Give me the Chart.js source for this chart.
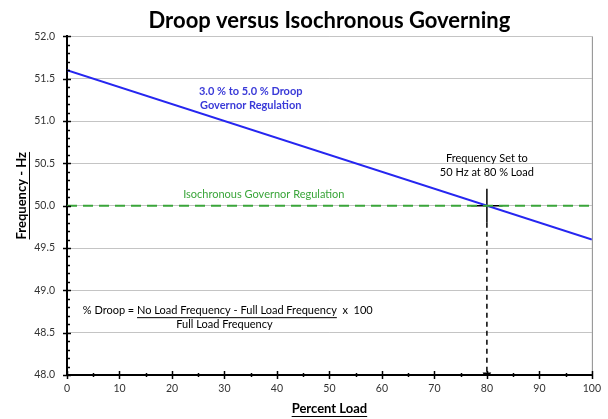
<!DOCTYPE html>
<html>
<head>
<meta charset="utf-8">
<script src="https://cdn.jsdelivr.net/npm/chart.js@4.4.0/dist/chart.umd.min.js"></script>
<style>
  html, body { margin: 0; padding: 0; background: #fff; }
  #wrap { width: 608px; height: 419px; }
</style>
</head>
<body>
<div id="wrap"><canvas id="droopChart" width="608" height="419"></canvas></div>
<script>
// --- Data ---
const loadRange = [0, 100];
const droopFreq = [51.6, 49.6];
const isoFreq = [50.0, 50.0];
const setPointLoad = 80;
const setPointFreq = 50.0;
const crossLoads = [77, 83];
const crossFreqs = [50.2, 49.8];
const freqTicks = [48.0, 48.5, 49.0, 49.5, 50.0, 50.5, 51.0, 51.5, 52.0];
const loadTicks = [0, 10, 20, 30, 40, 50, 60, 70, 80, 90, 100];

const FONT = "Lato, 'Open Sans', sans-serif";

function pts(xs, ys) {
  return xs.map((x, i) => ({ x: x, y: ys[i] }));
}

// --- Extra drawing: tick marks, right border, annotations, axis titles ---
const decorPlugin = {
  id: "decor",
  afterDraw(chart) {
    const ctx = chart.ctx;
    const xs = chart.scales.x;
    const ys = chart.scales.y;
    const area = chart.chartArea;

    ctx.save();
    // right border
    ctx.strokeStyle = "#8a8a8a";
    ctx.lineWidth = 1;
    ctx.beginPath();
    ctx.moveTo(area.right + 0.5, area.top);
    ctx.lineTo(area.right + 0.5, area.bottom);
    ctx.stroke();

    // tick marks
    ctx.strokeStyle = "#000";
    ctx.lineWidth = 1.5;
    for (let i = 0; i <= 40; i++) {
      const v = 48 + i * 0.1;
      const py = Math.round(ys.getPixelForValue(v)) + 0.5;
      const major = i % 5 === 0;
      ctx.beginPath();
      ctx.moveTo(area.left - (major ? 4 : 0), py);
      ctx.lineTo(area.left + (major ? 4 : 3), py);
      ctx.stroke();
    }
    for (let i = 0; i <= 20; i++) {
      const v = i * 5;
      const px = Math.round(xs.getPixelForValue(v)) + 0.5;
      const major = i % 2 === 0;
      ctx.beginPath();
      ctx.moveTo(px, area.bottom - (major ? 4 : 2));
      ctx.lineTo(px, area.bottom + (major ? 4 : 2));
      ctx.stroke();
    }

    function label(text, x, y, color, font, underline) {
      ctx.font = font;
      ctx.fillStyle = color;
      ctx.textAlign = "center";
      ctx.textBaseline = "middle";
      ctx.fillText(text, x, y);
      if (underline) {
        const w = ctx.measureText(text).width;
        ctx.strokeStyle = color;
        ctx.lineWidth = 1;
        ctx.beginPath();
        ctx.moveTo(x - w / 2, y + 7.5);
        ctx.lineTo(x + w / 2, y + 7.5);
        ctx.stroke();
      }
    }

    // axis titles
    label("Percent Load", (area.left + area.right) / 2, 409, "#000", "bold 13px " + FONT, true);
    ctx.save();
    ctx.translate(22, (area.top + area.bottom) / 2 - 10);
    ctx.rotate(-Math.PI / 2);
    label("Frequency - Hz", 0, 0, "#000", "bold 13px " + FONT, true);
    ctx.restore();

    // annotations
    const f11 = "11px " + FONT;
    const b11 = "bold 11px " + FONT;
    label("3.0 % to 5.0 % Droop", xs.getPixelForValue(35), ys.getPixelForValue(51.35), "#3a3ad8", b11);
    label("Governor Regulation", xs.getPixelForValue(35), ys.getPixelForValue(51.18), "#3a3ad8", b11);
    label("Isochronous Governor Regulation", xs.getPixelForValue(37.5), ys.getPixelForValue(50.13), "#3aa53a", f11);
    label("Frequency Set to", xs.getPixelForValue(80), ys.getPixelForValue(50.56), "#000", f11);
    label("50 Hz at 80 % Load", xs.getPixelForValue(80), ys.getPixelForValue(50.39), "#000", f11);

    // droop formula
    ctx.font = f11;
    ctx.fillStyle = "#000";
    ctx.textAlign = "left";
    ctx.textBaseline = "middle";
    const fy = ys.getPixelForValue(48.76);
    let fx = xs.getPixelForValue(3);
    const parts = ["% Droop = ", "No Load Frequency - Full Load Frequency", "  x  100"];
    parts.forEach((p, i) => {
      ctx.fillText(p, fx, fy);
      const w = ctx.measureText(p).width;
      if (i === 1) {
        ctx.strokeStyle = "#000";
        ctx.lineWidth = 1;
        ctx.beginPath();
        ctx.moveTo(fx, fy + 7);
        ctx.lineTo(fx + w, fy + 7);
        ctx.stroke();
      }
      fx += w;
    });
    label("Full Load Frequency", xs.getPixelForValue(30), ys.getPixelForValue(48.6), "#000", f11);
    ctx.restore();
  }
};

new Chart(document.getElementById("droopChart").getContext("2d"), {
  type: "scatter",
  data: {
    datasets: [
      {
        label: "Isochronous",
        data: pts(loadRange, isoFreq),
        showLine: true,
        borderColor: "#3aa53a",
        borderWidth: 2,
        borderDash: [10, 6],
        pointRadius: 0
      },
      {
        label: "Droop",
        data: pts(loadRange, droopFreq),
        showLine: true,
        borderColor: "#2626f0",
        borderWidth: 2,
        pointRadius: 0
      },
      {
        label: "Cross H",
        data: pts(crossLoads, [setPointFreq, setPointFreq]),
        showLine: true,
        borderColor: "#000",
        borderWidth: 1.5,
        pointRadius: 0
      },
      {
        label: "Cross V",
        data: pts([setPointLoad, setPointLoad], crossFreqs),
        showLine: true,
        borderColor: "#000",
        borderWidth: 1.5,
        pointRadius: 0
      },
      {
        label: "Drop",
        data: pts([setPointLoad, setPointLoad], [crossFreqs[1], freqTicks[0]]),
        showLine: true,
        borderColor: "#000",
        borderWidth: 1.5,
        borderDash: [5, 4],
        pointStyle: "triangle",
        rotation: 180,
        pointRadius: [0, 3.5],
        pointBackgroundColor: "#000",
        pointBorderColor: "#000"
      }
    ]
  },
  options: {
    responsive: false,
    animation: false,
    layout: { padding: { left: 0, right: 9, top: 0, bottom: 0 } },
    plugins: {
      legend: { display: false },
      tooltip: { enabled: false },
      title: {
        display: true,
        text: "Droop versus Isochronous Governing",
        fullSize: false,
        color: "#000",
        font: { family: FONT, size: 22, weight: "bold" },
        padding: { top: 8, bottom: 2 }
      }
    },
    scales: {
      x: {
        type: "linear",
        min: loadRange[0],
        max: loadRange[1],
        afterBuildTicks: s => { s.ticks = loadTicks.map(v => ({ value: v })); },
        afterFit: s => { s.height = 44; },
        grid: { display: false, drawTicks: false },
        border: { color: "#000", width: 2 },
        ticks: {
          padding: 7,
          color: "#333",
          font: { family: FONT, size: 10.5 }
        }
      },
      y: {
        type: "linear",
        min: freqTicks[0],
        max: freqTicks[freqTicks.length - 1],
        afterBuildTicks: s => { s.ticks = freqTicks.map(v => ({ value: v })); },
        afterFit: s => { s.width = 67; },
        grid: {
          color: ctx => ctx.tick && ctx.tick.value === freqTicks[0] ? "rgba(0,0,0,0)" : "#c4c4c4",
          lineWidth: 1,
          drawTicks: false
        },
        border: { color: "#000", width: 2 },
        ticks: {
          padding: 12,
          color: "#333",
          font: { family: FONT, size: 10.5 },
          callback: v => Number(v).toFixed(1)
        }
      }
    }
  },
  plugins: [decorPlugin]
});
</script>
</body>
</html>
